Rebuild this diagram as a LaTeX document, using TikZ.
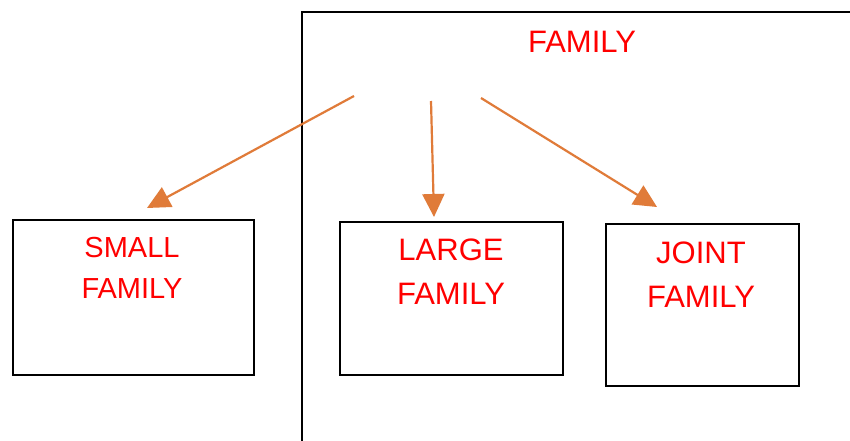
\documentclass[tikz,border=0pt]{standalone}
\usepackage{fontspec}
\setmainfont{Liberation Sans}
\usetikzlibrary{arrows.meta}
\definecolor{arr}{HTML}{E07B39}
\definecolor{lab}{HTML}{FF0000}
\tikzset{
  box/.style={draw=black, line width=2pt, rectangle, inner sep=0pt, anchor=north west},
  lbl/.style={text=lab, font=\fontsize{31}{44}\selectfont, align=center, inner sep=0pt, anchor=north},
  conn/.style={draw=arr, line width=2.2pt, -{Triangle[length=23pt,width=22pt]}}
}
\begin{document}
\begin{tikzpicture}[x=1pt,y=-1pt]
\useasboundingbox (0,0) rectangle (850,441);
\fill[white] (0,0) rectangle (850,441);
% frame (only top and left edges visible)
\draw[line width=2pt] (852,12) -- (302,12) -- (302,443);
\node[lbl] (fam) at (582,31) {FAMILY};
% boxes
\node[box, minimum width=241pt, minimum height=155pt] (small) at (12,219) {};
\node[box, minimum width=223pt, minimum height=153pt] (large) at (339,221) {};
\node[box, minimum width=193pt, minimum height=162pt] (joint) at (605,223) {};
\node[lbl, font=\fontsize{29}{41}\selectfont] (smallt) at (132,237) {SMALL\\FAMILY};
\node[lbl] (larget) at (451,239) {LARGE\\FAMILY};
\node[lbl] (jointt) at (701,242) {JOINT\\FAMILY};
% arrows
\coordinate (s1) at (354,96);
\coordinate (s2) at (431,101);
\coordinate (s3) at (481,98);
\coordinate (t1) at (147,208);
\coordinate (t2) at (434,217);
\coordinate (t3) at (657,207);
\draw[conn] (s1) -- (t1);
\draw[conn] (s2) -- (t2);
\draw[conn] (s3) -- (t3);
\end{tikzpicture}
\end{document}
